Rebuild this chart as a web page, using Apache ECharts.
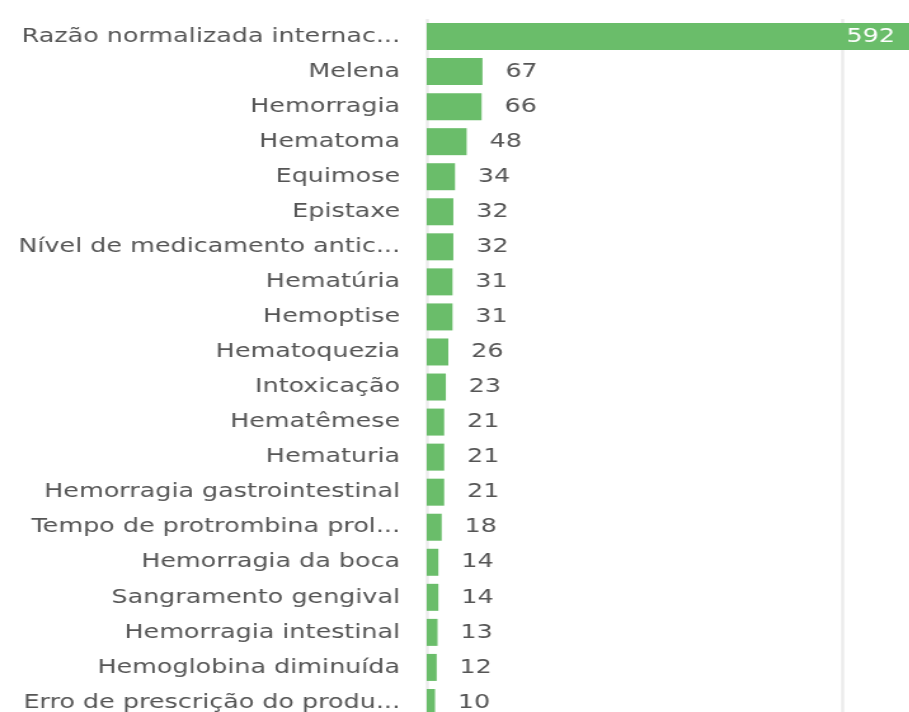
<!DOCTYPE html>
<html>
<head>
<meta charset="utf-8">
<script src="https://cdn.jsdelivr.net/npm/echarts@6/dist/echarts.min.js"></script>
<style>
    html, body { margin: 0; padding: 0; background: #fff; overflow: hidden; }
    /* the reference is a horizontally stretched screenshot, so draw narrow and stretch;
       the chart runs a little past the right and bottom edges like the original crop */
    #chart { width: 729px; height: 720px; transform: scaleX(1.27); transform-origin: 0 0; }
</style>
</head>
<body>
<div id="chart"></div>
<script>
var categories = [
    'Razão normalizada internac...', 'Melena', 'Hemorragia', 'Hematoma', 'Equimose',
    'Epistaxe', 'Nível de medicamento antic...', 'Hematúria', 'Hemoptise', 'Hematoquezia',
    'Intoxicação', 'Hematêmese', 'Hematuria', 'Hemorragia gastrointestinal',
    'Tempo de protrombina prol...', 'Hemorragia da boca', 'Sangramento gengival',
    'Hemorragia intestinal', 'Hemoglobina diminuída', 'Erro de prescrição do produ...'
];
var values = [592, 67, 66, 48, 34, 32, 32, 31, 31, 26, 23, 21, 21, 21, 18, 14, 14, 13, 12, 10];
var xTicks = [0, 500];

document.addEventListener("DOMContentLoaded", function () {
    var myChart = echarts.init(document.getElementById('chart'));

    // the biggest bar carries its label inside, in white
    var barData = values.map(function (v, i) {
        if (i === 0) {
            return {
                value: v,
                label: { position: 'insideRight', distance: 19, color: '#ffffff' }
            };
        }
        return v;
    });

    var option = {
        animation: false,
        grid: { left: 336, right: 0, top: 19, bottom: 0, containLabel: false },
        xAxis: {
            type: 'value',
            min: xTicks[0],
            max: 600,
            interval: xTicks[1] - xTicks[0],
            axisLabel: { show: false },
            axisTick: { show: false },
            axisLine: { show: false },
            splitLine: { show: true, lineStyle: { color: '#ececec', width: 2.5 } }
        },
        yAxis: {
            type: 'category',
            inverse: true,
            data: categories,
            axisLine: { show: false },
            axisTick: { show: false },
            axisLabel: {
                margin: 21,
                fontFamily: 'DejaVu Sans',
                fontSize: 20,
                color: '#555555'
            }
        },
        series: [
            {
                type: 'bar',
                barWidth: 27,
                itemStyle: { color: '#6abd6a' },
                label: {
                    show: true,
                    position: 'right',
                    distance: 18,
                    fontFamily: 'DejaVu Sans',
                    fontSize: 20,
                    color: '#555555'
                },
                data: barData
            }
        ]
    };

    myChart.setOption(option);
});
</script>
</body>
</html>
